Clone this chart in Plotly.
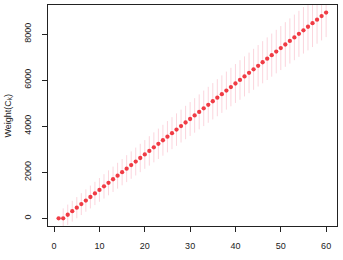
import plotly.graph_objects as go

x_vals = list(range(1, 61))
weights = [0, 0, 154, 308, 462, 616, 770, 924, 1078, 1232, 1386, 1540, 1694, 1848,
           2002, 2156, 2310, 2464, 2618, 2772, 2926, 3080, 3234, 3388, 3542, 3696,
           3850, 4004, 4158, 4312, 4466, 4620, 4774, 4928, 5082, 5236, 5390, 5544,
           5698, 5852, 6006, 6160, 6314, 6468, 6622, 6776, 6930, 7084, 7238, 7392,
           7546, 7700, 7854, 8008, 8162, 8316, 8470, 8624, 8778, 8932]
err = [0, 430, 440, 450, 460, 475, 485, 495, 505, 515, 530, 540, 550, 560, 570,
       585, 595, 605, 615, 625, 640, 650, 660, 670, 680, 695, 705, 715, 725, 735,
       750, 760, 770, 780, 790, 805, 815, 825, 835, 845, 860, 870, 880, 890, 900,
       915, 925, 935, 945, 955, 970, 980, 990, 1000, 1010, 1025, 1035, 1045, 1055, 1065]
x_ticks = [0, 10, 20, 30, 40, 50, 60]
y_ticks = [0, 2000, 4000, 6000, 8000]
y_title = "Weight(C<sub>k</sub>)"

fig = go.Figure()
fig.add_trace(go.Scatter(
    x=x_vals, y=weights, mode="markers",
    marker=dict(size=4.3, color="rgba(238,40,50,0.9)", line=dict(width=0)),
    error_y=dict(type="data", array=err, visible=True, width=0, thickness=1,
                 color="rgba(245,150,170,0.4)"),
    showlegend=False,
))

font = dict(family="Liberation Sans, Arial, sans-serif", size=9, color="#222")
fig.update_layout(
    width=343, height=260,
    margin=dict(l=48, r=6, t=5, b=34),
    paper_bgcolor="white", plot_bgcolor="white",
    font=font,
    xaxis=dict(range=[-1.35, 62.4], tickvals=x_ticks, ticks="outside", ticklen=5,
               tickcolor="#222", showline=True, linecolor="#222", linewidth=1,
               mirror=True, showgrid=False, zeroline=False, ticklabelstandoff=6),
    yaxis=dict(range=[-335, 9261], tickvals=y_ticks, ticks="outside", ticklen=5,
               tickcolor="#222", showline=True, linecolor="#222", linewidth=1,
               mirror=True, showgrid=False, zeroline=False, tickangle=-90,
               ticklabelstandoff=7),
    annotations=[dict(text=y_title, xref="paper", yref="paper", x=0, y=0.5,
                      xanchor="center", yanchor="middle", xshift=-40,
                      textangle=-90, showarrow=False, font=font)],
)
fig.write_html("out.html")
